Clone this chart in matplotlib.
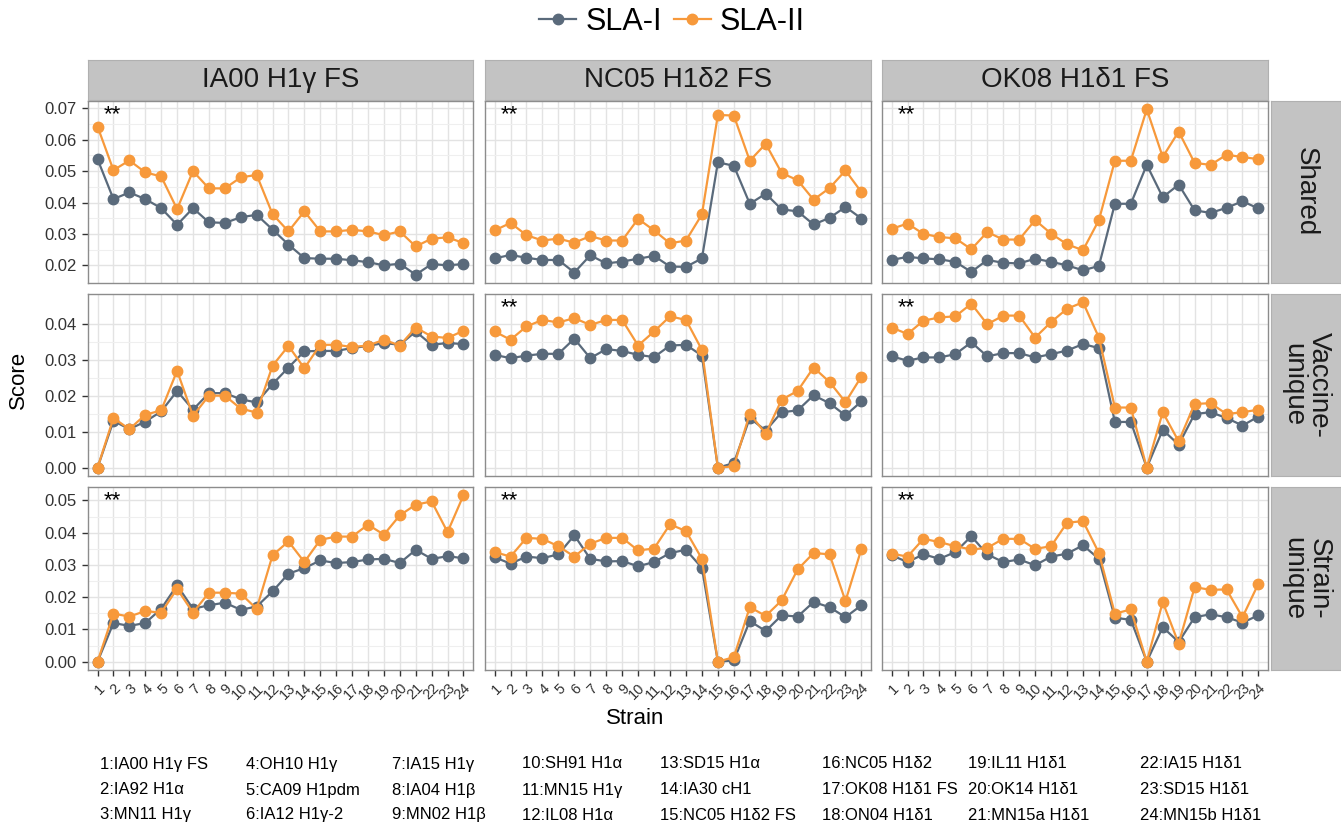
import matplotlib
matplotlib.use("Agg")
import matplotlib.pyplot as plt
from matplotlib.lines import Line2D
import numpy as np

plt.rcParams['font.family'] = ['Liberation Sans', 'DejaVu Sans']

strains = list(range(1, 25))
col_titles = ["IA00 H1\u03b3 FS", "NC05 H1\u03b42 FS", "OK08 H1\u03b41 FS"]
row_titles = ["Shared", "Vaccine-\nunique", "Strain-\nunique"]

# Shared
ia00_shared_1 = [0.0538, 0.0411, 0.0432, 0.0411, 0.0382, 0.0329, 0.0382, 0.0337, 0.0335, 0.0353, 0.0361, 0.0314,
                 0.0266, 0.0223, 0.0221, 0.0221, 0.0216, 0.0210, 0.0200, 0.0205, 0.0170, 0.0204, 0.0200, 0.0204]
ia00_shared_2 = [0.0642, 0.0503, 0.0534, 0.0496, 0.0483, 0.0379, 0.0500, 0.0445, 0.0445, 0.0480, 0.0488, 0.0363,
                 0.0308, 0.0372, 0.0308, 0.0308, 0.0313, 0.0308, 0.0296, 0.0308, 0.0260, 0.0285, 0.0289, 0.0271]
nc05_shared_1 = [0.0222, 0.0233, 0.0224, 0.0217, 0.0217, 0.0177, 0.0232, 0.0206, 0.0212, 0.0221, 0.0230, 0.0196,
                 0.0195, 0.0222, 0.0528, 0.0517, 0.0396, 0.0428, 0.0378, 0.0372, 0.0330, 0.0351, 0.0386, 0.0349]
nc05_shared_2 = [0.0311, 0.0335, 0.0296, 0.0279, 0.0285, 0.0272, 0.0293, 0.0279, 0.0279, 0.0348, 0.0311, 0.0270,
                 0.0279, 0.0362, 0.0679, 0.0677, 0.0533, 0.0587, 0.0494, 0.0471, 0.0409, 0.0446, 0.0502, 0.0433]
ok08_shared_1 = [0.0217, 0.0227, 0.0222, 0.0219, 0.0211, 0.0179, 0.0217, 0.0208, 0.0206, 0.0221, 0.0211, 0.0200,
                 0.0184, 0.0198, 0.0396, 0.0396, 0.0520, 0.0417, 0.0457, 0.0375, 0.0367, 0.0383, 0.0404, 0.0381]
ok08_shared_2 = [0.0316, 0.0333, 0.0300, 0.0290, 0.0286, 0.0251, 0.0306, 0.0282, 0.0282, 0.0344, 0.0301, 0.0267,
                 0.0248, 0.0344, 0.0533, 0.0533, 0.0697, 0.0545, 0.0626, 0.0526, 0.0520, 0.0552, 0.0545, 0.0538]

# Vaccine-unique
ia00_vacc_1 = [0.0, 0.0130, 0.0107, 0.0128, 0.0156, 0.0213, 0.0161, 0.0207, 0.0207, 0.0190, 0.0181, 0.0232,
               0.0278, 0.0323, 0.0324, 0.0324, 0.0332, 0.0338, 0.0346, 0.0341, 0.0378, 0.0341, 0.0346, 0.0343]
ia00_vacc_2 = [0.0, 0.0138, 0.0107, 0.0147, 0.0159, 0.0269, 0.0144, 0.0200, 0.0200, 0.0164, 0.0153, 0.0283,
               0.0338, 0.0276, 0.0341, 0.0341, 0.0335, 0.0339, 0.0355, 0.0339, 0.0389, 0.0364, 0.0360, 0.0380]
nc05_vacc_1 = [0.0313, 0.0304, 0.0311, 0.0316, 0.0316, 0.0358, 0.0304, 0.0329, 0.0324, 0.0313, 0.0307, 0.0339,
               0.0341, 0.0311, 0.0, 0.0013, 0.0138, 0.0103, 0.0154, 0.0159, 0.0201, 0.0179, 0.0145, 0.0184]
nc05_vacc_2 = [0.0378, 0.0355, 0.0392, 0.0410, 0.0403, 0.0415, 0.0396, 0.0410, 0.0410, 0.0339, 0.0378, 0.0420,
               0.0410, 0.0327, 0.0, 0.0004, 0.0150, 0.0094, 0.0189, 0.0213, 0.0278, 0.0238, 0.0182, 0.0253]
ok08_vacc_1 = [0.0309, 0.0297, 0.0306, 0.0306, 0.0315, 0.0348, 0.0309, 0.0318, 0.0318, 0.0306, 0.0315, 0.0325,
               0.0343, 0.0332, 0.0127, 0.0127, 0.0, 0.0105, 0.0064, 0.0149, 0.0154, 0.0138, 0.0117, 0.0142]
ok08_vacc_2 = [0.0389, 0.0371, 0.0408, 0.0417, 0.0420, 0.0455, 0.0398, 0.0422, 0.0422, 0.0361, 0.0404, 0.0441,
               0.0459, 0.0361, 0.0167, 0.0167, 0.0, 0.0154, 0.0073, 0.0177, 0.0179, 0.0149, 0.0154, 0.0161]

# Strain-unique
ia00_strain_1 = [0.0, 0.0120, 0.0111, 0.0120, 0.0164, 0.0237, 0.0164, 0.0175, 0.0183, 0.0161, 0.0171, 0.0218,
                 0.0273, 0.0290, 0.0314, 0.0306, 0.0309, 0.0317, 0.0319, 0.0306, 0.0347, 0.0319, 0.0327, 0.0321]
ia00_strain_2 = [0.0, 0.0149, 0.0140, 0.0157, 0.0152, 0.0226, 0.0152, 0.0214, 0.0214, 0.0211, 0.0164, 0.0330,
                 0.0373, 0.0309, 0.0378, 0.0388, 0.0388, 0.0425, 0.0394, 0.0454, 0.0487, 0.0497, 0.0402, 0.0516]
nc05_strain_1 = [0.0324, 0.0304, 0.0326, 0.0321, 0.0333, 0.0392, 0.0319, 0.0311, 0.0312, 0.0296, 0.0309, 0.0337,
                 0.0347, 0.0291, 0.0, 0.0004, 0.0126, 0.0095, 0.0144, 0.0140, 0.0185, 0.0169, 0.0138, 0.0175]
nc05_strain_2 = [0.0340, 0.0326, 0.0384, 0.0381, 0.0358, 0.0326, 0.0366, 0.0384, 0.0384, 0.0345, 0.0351, 0.0426,
                 0.0405, 0.0319, 0.0, 0.0014, 0.0169, 0.0142, 0.0190, 0.0286, 0.0337, 0.0333, 0.0188, 0.0350]
ok08_strain_1 = [0.0330, 0.0309, 0.0333, 0.0319, 0.0340, 0.0389, 0.0333, 0.0309, 0.0317, 0.0299, 0.0326, 0.0335,
                 0.0361, 0.0319, 0.0136, 0.0130, 0.0, 0.0107, 0.0061, 0.0138, 0.0147, 0.0138, 0.0121, 0.0144]
ok08_strain_2 = [0.0335, 0.0326, 0.0381, 0.0371, 0.0358, 0.0348, 0.0353, 0.0381, 0.0381, 0.0350, 0.0358, 0.0431,
                 0.0436, 0.0337, 0.0149, 0.0162, 0.0, 0.0185, 0.0056, 0.0231, 0.0223, 0.0224, 0.0138, 0.0242]

sla1 = [[ia00_shared_1, nc05_shared_1, ok08_shared_1],
        [ia00_vacc_1, nc05_vacc_1, ok08_vacc_1],
        [ia00_strain_1, nc05_strain_1, ok08_strain_1]]
sla2 = [[ia00_shared_2, nc05_shared_2, ok08_shared_2],
        [ia00_vacc_2, nc05_vacc_2, ok08_vacc_2],
        [ia00_strain_2, nc05_strain_2, ok08_strain_2]]
stars = [[True, True, True], [False, True, True], [True, True, True]]

yticks = [[0.02, 0.03, 0.04, 0.05, 0.06, 0.07],
          [0.00, 0.01, 0.02, 0.03, 0.04],
          [0.00, 0.01, 0.02, 0.03, 0.04, 0.05]]

legend_labels = ["1:IA00 H1\u03b3 FS", "2:IA92 H1\u03b1", "3:MN11 H1\u03b3",
                 "4:OH10 H1\u03b3", "5:CA09 H1pdm", "6:IA12 H1\u03b3-2",
                 "7:IA15 H1\u03b3", "8:IA04 H1\u03b2", "9:MN02 H1\u03b2",
                 "10:SH91 H1\u03b1", "11:MN15 H1\u03b3", "12:IL08 H1\u03b1",
                 "13:SD15 H1\u03b1", "14:IA30 cH1", "15:NC05 H1\u03b42 FS",
                 "16:NC05 H1\u03b42", "17:OK08 H1\u03b41 FS", "18:ON04 H1\u03b41",
                 "19:IL11 H1\u03b41", "20:OK14 H1\u03b41", "21:MN15a H1\u03b41",
                 "22:IA15 H1\u03b41", "23:SD15 H1\u03b41", "24:MN15b H1\u03b41"]

c1 = '#5a6a7b'
c2 = '#f7993b'

W, H = 1341, 825
fig = plt.figure(figsize=(W / 100, H / 100), dpi=100)


def px_axes(x0, y0, x1, y1):
    return fig.add_axes([x0 / W, 1 - y1 / H, (x1 - x0) / W, (y1 - y0) / H])


col_x = [(88, 473), (485, 871), (882, 1268)]
row_y = [(101, 283), (294, 476), (487, 670)]
strip_col = '#c3c3c3'

for r in range(3):
    for c in range(3):
        x0, x1 = col_x[c]
        y0, y1 = row_y[r]
        ax = px_axes(x0, y0, x1, y1)
        ax.plot(strains, sla1[r][c], color=c1, lw=1.6, marker='o', ms=7.5, zorder=3)
        ax.plot(strains, sla2[r][c], color=c2, lw=1.6, marker='o', ms=7.5, zorder=4)
        ax.set_xlim(0.4, 24.6)
        allv = np.concatenate([np.array(sla1[r]).ravel(), np.array(sla2[r]).ravel()])
        pad = (allv.max() - allv.min()) * 0.05
        ax.set_ylim(allv.min() - pad, allv.max() + pad)
        ax.set_xticks(strains)
        ax.set_yticks(yticks[r])
        ax.set_yticks(np.array(yticks[r][:-1]) + 0.005, minor=True)
        ax.grid(True, which='major', color='#e3e3e3', lw=1.0)
        ax.grid(True, which='minor', axis='y', color='#efefef', lw=0.8)
        ax.set_axisbelow(True)
        for s in ax.spines.values():
            s.set_color('#8c8c8c')
            s.set_linewidth(1.0)
        ax.tick_params(which='minor', length=0)
        ax.tick_params(axis='both', which='major', length=4, color='#333333', width=1)
        if c == 0:
            ax.set_yticklabels(['%.2f' % v for v in yticks[r]], fontsize=12, color='#333333')
            ax.tick_params(axis='y', pad=4)
        else:
            ax.tick_params(axis='y', length=0, labelleft=False)
        if r == 2:
            ax.set_xticklabels([str(s) for s in strains], rotation=45, fontsize=10.5,
                               ha='right', va='top', rotation_mode='anchor', color='#333333')
            ax.tick_params(axis='x', pad=4)
        else:
            ax.tick_params(axis='x', length=0, labelbottom=False)
        if stars[r][c]:
            ax.text(0.04, 0.925, '**', transform=ax.transAxes, fontsize=16, ha='left', va='center')

# column strips
for c in range(3):
    x0, x1 = col_x[c]
    sax = px_axes(x0, 60, x1, 100)
    sax.set_facecolor(strip_col)
    sax.set_xticks([])
    sax.set_yticks([])
    for s in sax.spines.values():
        s.set_color('#b0b0b0')
    sax.text(0.5, 0.5, col_titles[c], ha='center', va='center', fontsize=20, color='#1a1a1a',
             transform=sax.transAxes)

# row strips
for r in range(3):
    y0, y1 = row_y[r]
    sax = px_axes(1271, y0, 1341, y1)
    sax.set_facecolor(strip_col)
    sax.set_xticks([])
    sax.set_yticks([])
    for s in sax.spines.values():
        s.set_color('#b0b0b0')
    sax.text(0.5, 0.5, row_titles[r], ha='center', va='center', fontsize=20, color='#1a1a1a',
             rotation=-90, linespacing=1.0, transform=sax.transAxes)

fig.text(18 / W, 1 - 380 / H, 'Score', rotation=90, ha='center', va='center', fontsize=16)
fig.text(635 / W, 1 - 718 / H, 'Strain', ha='center', va='center', fontsize=16)

handles = [Line2D([], [], color=c1, marker='o', ms=7.5, lw=1.6),
           Line2D([], [], color=c2, marker='o', ms=7.5, lw=1.6)]
fig.legend(handles, ['SLA-I', 'SLA-II'], loc='center', bbox_to_anchor=(672 / W, 1 - 22 / H),
           ncol=2, frameon=False, fontsize=22, handlelength=1.2, handletextpad=0.3,
           columnspacing=0.4)

# strain key at the bottom
key_x = [100, 246, 392, 522, 660, 822, 968, 1140]
key_y = [764, 790, 815]
for i, lab in enumerate(legend_labels):
    col = i // 3
    row = i % 3
    fig.text(key_x[col] / W, 1 - key_y[row] / H, lab, ha='left', va='center', fontsize=12)

fig.savefig('out.png', dpi=100)
